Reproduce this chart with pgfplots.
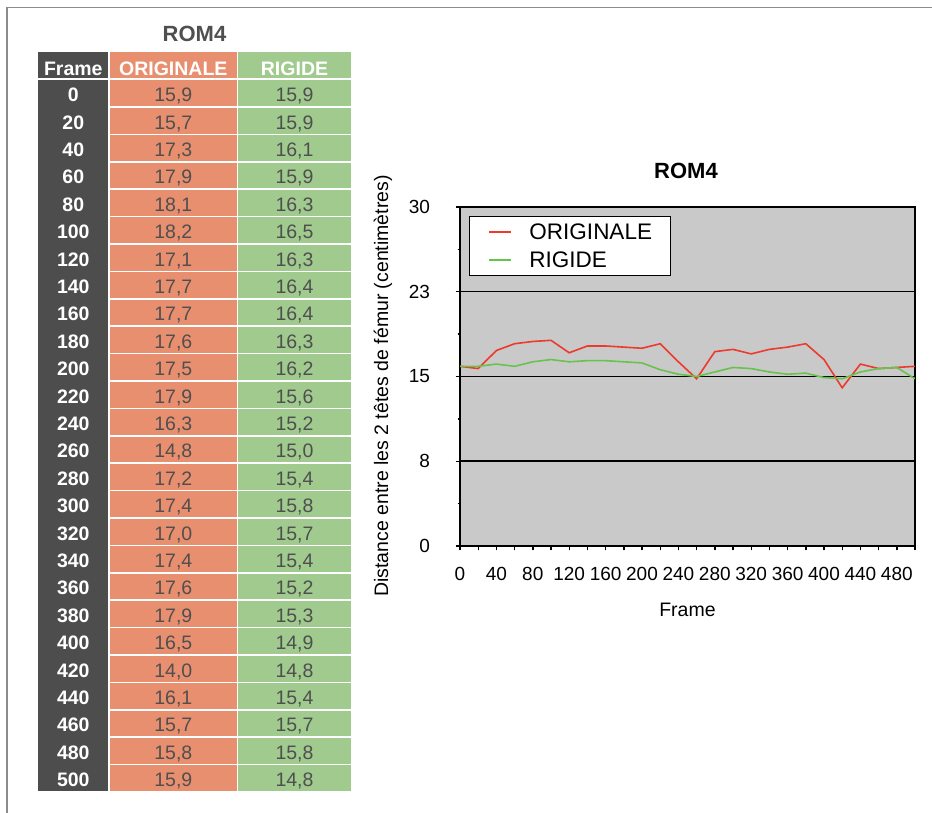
\documentclass[border=0pt]{standalone}
\usepackage{fontspec}
\setmainfont{Liberation Sans}
\usepackage{pgfplots}
\usepackage{pgfplotstable}
\pgfplotsset{compat=1.18}
\pgfkeys{/pgf/number format/assume math mode=true}
\definecolor{tdark}{HTML}{4C4D4C}
\definecolor{torange}{HTML}{E88F70}
\definecolor{tgreen}{HTML}{A0CA8E}
\definecolor{ttext}{HTML}{4F4F4F}
\definecolor{plotbg}{HTML}{C9C9C9}
\definecolor{lred}{HTML}{EE3A2C}
\definecolor{lgreen}{HTML}{66C34C}
\definecolor{framegray}{HTML}{8C8C8C}
\newcommand{\tablefont}{\fontsize{19.5}{22}\selectfont}

\pgfplotstableread{
frame orig rig
0 15.9 15.9
20 15.7 15.9
40 17.3 16.1
60 17.9 15.9
80 18.1 16.3
100 18.2 16.5
120 17.1 16.3
140 17.7 16.4
160 17.7 16.4
180 17.6 16.3
200 17.5 16.2
220 17.9 15.6
240 16.3 15.2
260 14.8 15.0
280 17.2 15.4
300 17.4 15.8
320 17.0 15.7
340 17.4 15.4
360 17.6 15.2
380 17.9 15.3
400 16.5 14.9
420 14.0 14.8
440 16.1 15.4
460 15.7 15.7
480 15.8 15.8
500 15.9 14.8
}\datatable

\begin{document}
\begin{tikzpicture}
\useasboundingbox (0,0) rectangle (932pt,813pt);
\begin{scope}[x=1pt,y=1pt]
\draw[framegray, line width=1.5pt] (7,0) -- (7,805.5) -- (932,805.5);
\node[font=\bfseries\fontsize{22}{26}\selectfont, text=ttext, anchor=base] at (194.5,771.3) {ROM4};
% header
\fill[tdark] (38.3,734.7) rectangle (108.3,761.3);
\fill[torange] (110,734.7) rectangle (236.7,761.3);
\fill[tgreen] (238.3,734.7) rectangle (350.7,761.3);
\node[anchor=base, text=white, font=\bfseries\tablefont] at (73.3,737) {Frame};
\node[anchor=base, text=white, font=\bfseries\tablefont] at (173.3,737) {ORIGINALE};
\node[anchor=base, text=white, font=\bfseries\tablefont] at (294.5,737) {RIGIDE};
% body
\fill[tdark] (38.3,21.7) rectangle (108.3,732.5);
\foreach \i in {0,...,25} {
  \pgfmathsetmacro{\yb}{706.7-27.4*\i}
  \pgfmathsetmacro{\yt}{732.5-27.4*\i}
  \pgfmathsetmacro{\ytx}{711.2-27.4*\i}
  \fill[torange] (110,\yb) rectangle (236.7,\yt);
  \fill[tgreen] (238.3,\yb) rectangle (350.7,\yt);
  \pgfplotstablegetelem{\i}{frame}\of\datatable \let\vf\pgfplotsretval
  \pgfplotstablegetelem{\i}{orig}\of\datatable \let\vo\pgfplotsretval
  \pgfplotstablegetelem{\i}{rig}\of\datatable \let\vr\pgfplotsretval
  \node[anchor=base, text=white, font=\bfseries\tablefont] at (73.3,\ytx) {\vf};
  \node[anchor=base, text=ttext, font=\tablefont] at (173.3,\ytx) {\pgfmathprintnumber[fixed,fixed zerofill,precision=1,use comma]{\vo}};
  \node[anchor=base, text=ttext, font=\tablefont] at (294.5,\ytx) {\pgfmathprintnumber[fixed,fixed zerofill,precision=1,use comma]{\vr}};
}
\node[font=\bfseries\fontsize{22}{26}\selectfont] at (686,642.5) {ROM4};
\end{scope}
\begin{axis}[
  at={(460pt,267pt)}, anchor=south west,
  scale only axis, width=455pt, height=339pt,
  xmin=0, xmax=500, ymin=0, ymax=30,
  axis background/.style={fill=plotbg},
  axis line style={line width=1.5pt},
  xtick pos=bottom, ytick pos=left,
  xtick={0,20,...,500},
  xticklabels={0,,40,,80,,120,,160,,200,,240,,280,,320,,360,,400,,440,,480,},
  ytick={0,7.5,15,22.5,30}, yticklabels={0,8,15,23,30},
  minor ytick={3.75,11.25,18.75,26.25},
  tick align=outside, major tick length=4.5pt, minor tick length=2.5pt,
  tick style={black, line width=1.4pt},
  ymajorgrids, major grid style={black, line width=1.5pt},
  tick label style={font=\fontsize{19}{22}\selectfont},
  xticklabel style={yshift=-13pt},
  yticklabel style={xshift=-22pt},
  xlabel={Frame},
  ylabel={Distance entre les 2 têtes de fémur (centimètres)},
  label style={font=\fontsize{19.5}{22}\selectfont},
  xlabel style={at={(axis description cs:0.5,-0.1873)}, anchor=center},
  ylabel style={at={(axis description cs:-0.1692,0.472)}, anchor=center},
  legend style={at={(axis description cs:0.0204,0.9735)}, anchor=north west,
    draw=black, line width=1.2pt, fill=white, font=\fontsize{22.5}{26}\selectfont,
    inner xsep=18.7pt, inner ysep=7pt, row sep=10.9pt, column sep=17.3pt,
    nodes={inner sep=0pt}},
  legend cell align=left,
  legend image code/.code={\draw[#1, line width=1.6pt] (0pt,0pt) -- (22pt,0pt);},
]
\addplot[lred, line width=1.6pt] table[x=frame,y=orig]{\datatable};
\addlegendentry{ORIGINALE}
\addplot[lgreen, line width=1.6pt] table[x=frame,y=rig]{\datatable};
\addlegendentry{RIGIDE}
\end{axis}
\end{tikzpicture}
\end{document}
